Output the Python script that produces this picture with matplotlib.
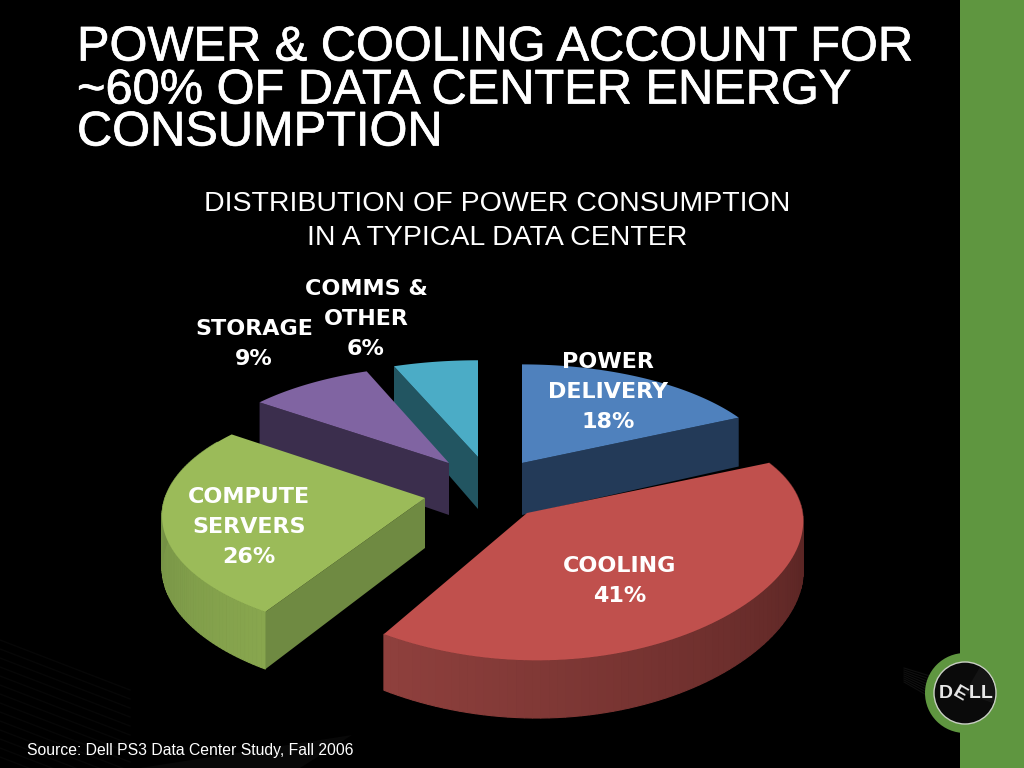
import numpy as np
import matplotlib
matplotlib.use("Agg")
import matplotlib.pyplot as plt
from matplotlib.patches import Circle, Wedge
import matplotlib.patheffects as pe

# values as printed on the slide, clockwise from 12 o'clock
categories = ["POWER\nDELIVERY", "COOLING", "COMPUTE\nSERVERS", "STORAGE", "COMMS &\nOTHER"]
shares = [18, 41, 26, 9, 6]
title_lines = ["POWER & COOLING ACCOUNT FOR", "~60% OF DATA CENTER ENERGY", "CONSUMPTION"]
subtitle_lines = ["DISTRIBUTION OF POWER CONSUMPTION", "IN A TYPICAL DATA CENTER"]
source = "Source: Dell PS3 Data Center Study, Fall 2006"

top_colors = ["#4f81bd", "#c0504d", "#9bbb59", "#8064a2", "#4bacc6"]
cut_colors = ["#233a58", None, "#6f8a42", "#3b2e4d", "#225561"]
rim_colors = [None, ("#8f403d", "#4c1e1d"), ("#88a64e", "#6a8540"), None, None]

# per slice placement of the exploded pieces, in pixels
apex = [(522, 463), (527, 513), (425, 498), (449, 463), (478, 457)]
x_scale = [0.98, 1.06, 1.0, 0.98, 1.0]
y_scale = [1.05, 1.16, 1.09, 1.04, 1.03]
x_persp = [0.15, 0.03, 0.15, 0.15, 0.15]
shear = [0, 10, 0, 0, 0]
depth = [52, 49, 50, 52, 52]
cut_edge = [1, None, 2, 3, 4]
label_xy = [(608, 392), (620, 581), (249, 527), (254, 344), (366, 319)]
draw_order = [4, 3, 0, 2, 1]

RX, RY, PERSP = 260, 108, 0.15

fig = plt.figure(figsize=(10.24, 7.68), dpi=100, facecolor="black")
ax = fig.add_axes([0, 0, 1, 1])
ax.set_xlim(0, 1024)
ax.set_ylim(768, 0)
ax.axis("off")


def project(i, theta):
    x, y = np.sin(theta), np.cos(theta)
    p = 1 / (1 + PERSP * y)
    px = 1 / (1 + x_persp[i] * y)
    sx = apex[i][0] + RX * x_scale[i] * x * px - shear[i] * y
    sy = apex[i][1] - RY * y_scale[i] * y * p
    return sx, sy, depth[i] * p


def mix(c1, c2, t):
    a = np.array(matplotlib.colors.to_rgb(c1))
    b = np.array(matplotlib.colors.to_rgb(c2))
    return a + (b - a) * t


# faint background streaks
for k in range(14):
    ax.plot([0, 130], [640 + k * 9, 690 + k * 9], color="#070707", lw=1, zorder=0)
for k in range(8):
    ax.plot([904, 930], [668 + k * 2, 676 + k * 3], color="#101010", lw=0.8, zorder=0)
ax.fill([140, 352, 300, 130], [768, 735, 768, 768], color="#080808", lw=0, zorder=0)

# the pie, back slices first
edges = np.cumsum([0] + shares) / sum(shares) * 2 * np.pi
for i in draw_order:
    t = np.linspace(edges[i], edges[i + 1], 90)
    sx, sy, d = project(i, t)

    # outer rim, drawn in strips so the shade can run along it
    if rim_colors[i] is not None:
        for j in range(len(t) - 1):
            if np.cos(t[j]) < 0.5:
                f = j / (len(t) - 2)
                c = mix(rim_colors[i][1], rim_colors[i][0], f if i == 1 else 1 - f)
                ax.fill([sx[j], sx[j + 1], sx[j + 1], sx[j]],
                        [sy[j], sy[j + 1], sy[j + 1] + d[j + 1], sy[j] + d[j]],
                        facecolor=c, edgecolor=c, lw=0.8, zorder=2)

    # flat cut face that looks towards the viewer
    if cut_edge[i] is not None:
        ex, ey, ed = project(i, edges[cut_edge[i]])
        x0, y0 = apex[i]
        ax.fill([x0, ex, ex, x0], [y0, ey, ey + ed, y0 + depth[i]],
                color=cut_colors[i], lw=0, zorder=2)

    ax.fill(np.r_[apex[i][0], sx], np.r_[apex[i][1], sy], color=top_colors[i], lw=0, zorder=2)

    ax.text(label_xy[i][0], label_xy[i][1], f"{categories[i]}\n{shares[i]}%",
            color="white", fontsize=16, fontweight="bold", family="DejaVu Sans",
            ha="center", va="center", linespacing=1.63, zorder=5)

# slide furniture
ax.fill([960, 1024, 1024, 960], [0, 0, 768, 768], color="#5f9640", lw=0, zorder=1)
ax.add_patch(Circle((965, 693), 40, color="#5f9640", lw=0, zorder=6))
ax.add_patch(Circle((965, 693), 31, facecolor="#0a0a0a", edgecolor="#c9cfc4", lw=1, zorder=7))
ax.add_patch(Wedge((965, 693), 30, 300, 20, color="#141414", lw=0, zorder=7))
for txt, x, rot in [("D", 946, 0), ("E", 960, -30), ("L", 975, 0), ("L", 987, 0)]:
    ax.text(x, 694, txt, color="#e8e8e8", fontsize=14, fontweight="bold", family="Liberation Sans",
            ha="center", va="center", rotation=rot, zorder=8)

for line, y in zip(title_lines, [48, 91, 133]):
    ax.text(77, y, line, color="white", fontsize=35.1, family="Liberation Sans",
            ha="left", va="center", zorder=5,
            path_effects=[pe.withStroke(linewidth=0.5, foreground="white")])
for line, y in zip(subtitle_lines, [204, 238]):
    ax.text(497, y, line, color="white", fontsize=20.5, family="Liberation Sans",
            ha="center", va="center", zorder=5)
ax.text(27, 750, source, color="white", fontsize=11.3, family="Liberation Sans",
        ha="left", va="center", zorder=5)

fig.savefig("out.png", dpi=100, facecolor="black")
